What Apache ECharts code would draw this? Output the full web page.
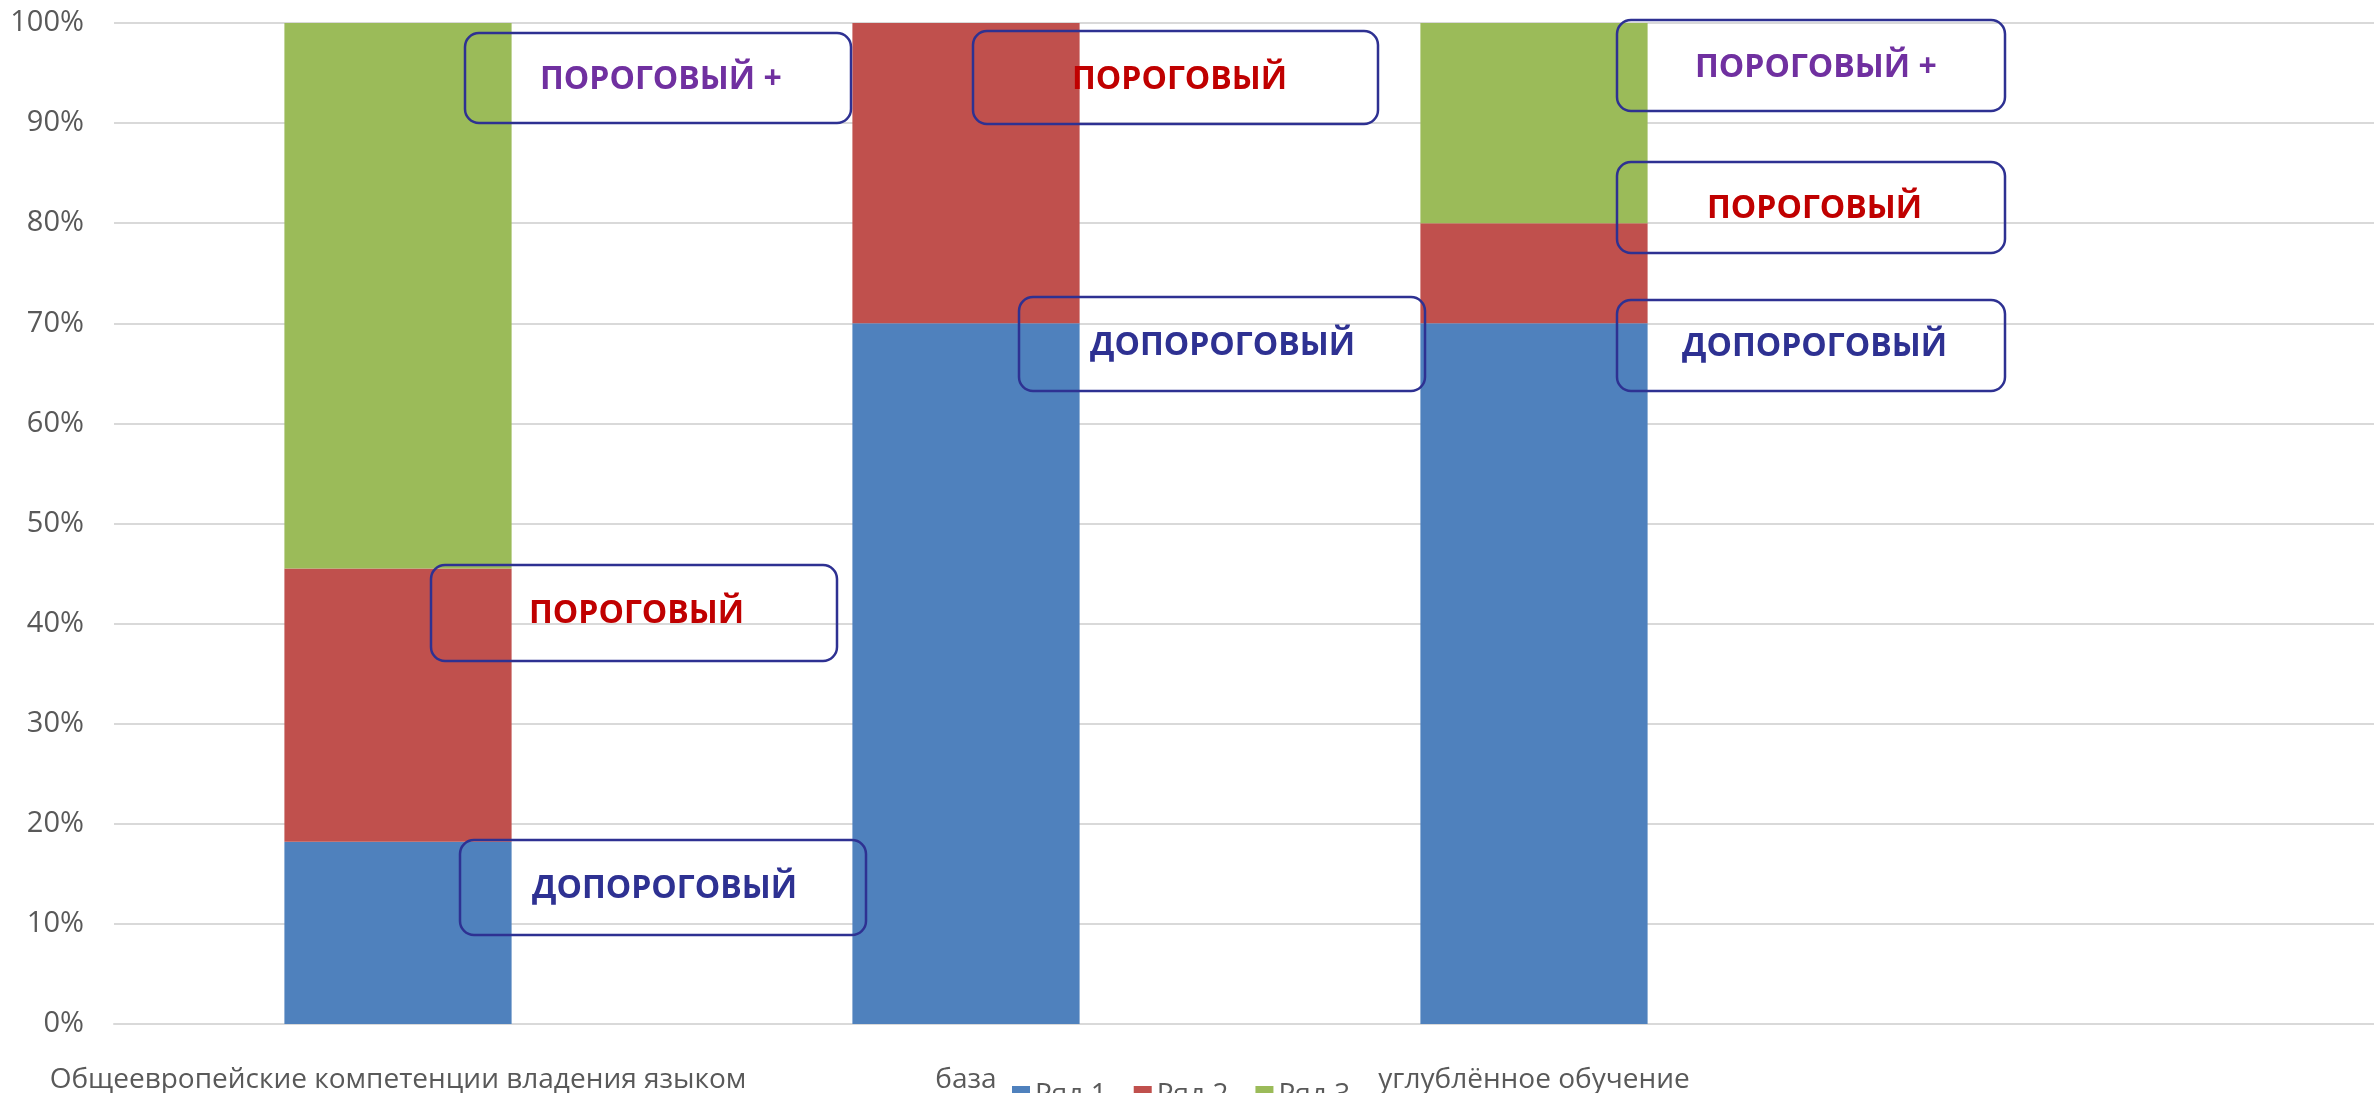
<!DOCTYPE html>
<html>
<head>
<meta charset="utf-8">
<title>chart</title>
<script src="https://cdn.jsdelivr.net/npm/echarts@6/dist/echarts.min.js"></script>
<style>
  html, body { margin: 0; padding: 0; background: #fff; }
  #main { width: 2374px; height: 1093px; }
</style>
</head>
<body>
<div id="main"></div>
<script>
// данные диаграммы
var categories = ['Общеевропейские компетенции владения языком', 'база', 'углублённое обучение', '']
var seriesNames = ['Ряд 1', 'Ряд 2', 'Ряд 3']
var row1 = [18.2, 70, 70, null]
var row2 = [27.3, 30, 10, null]
var row3 = [54.5, 0, 20, null]
var colors = ['#4F81BD', '#C0504D', '#9BBB59']

var FONT = '"Open Sans", "Noto Sans", sans-serif'
var BOX = '#2E3192'

// подписи-выноски (рамки поверх графика)
var notes = [
  { text: 'ПОРОГОВЫЙ +', color: '#7030A0', box: [465, 33, 386, 90], tx: 540, ty: 80 },
  { text: 'ПОРОГОВЫЙ', color: '#C00000', box: [431, 565, 406, 96], tx: 529, ty: 614 },
  { text: 'ДОПОРОГОВЫЙ', color: BOX, box: [460, 840, 406, 95], tx: 532, ty: 889 },
  { text: 'ПОРОГОВЫЙ', color: '#C00000', box: [973, 31, 405, 93], tx: 1072, ty: 80 },
  { text: 'ДОПОРОГОВЫЙ', color: BOX, box: [1019, 297, 406, 94], tx: 1090, ty: 346 },
  { text: 'ПОРОГОВЫЙ +', color: '#7030A0', box: [1617, 20, 388, 91], tx: 1695, ty: 68 },
  { text: 'ПОРОГОВЫЙ', color: '#C00000', box: [1617, 162, 388, 91], tx: 1707, ty: 209 },
  { text: 'ДОПОРОГОВЫЙ', color: BOX, box: [1617, 300, 388, 91], tx: 1682, ty: 347 }
]

var graphics = []
notes.forEach(function (n) {
  graphics.push({
    type: 'rect',
    z: 100,
    shape: { x: n.box[0], y: n.box[1], width: n.box[2], height: n.box[3], r: 14 },
    style: { fill: 'rgba(0,0,0,0)', stroke: BOX, lineWidth: 2.5 }
  })
  graphics.push({
    type: 'text',
    z: 101,
    x: n.tx,
    y: n.ty,
    style: {
      text: n.text,
      fill: n.color,
      fontSize: 32,
      fontWeight: 'bold',
      fontFamily: FONT,
      verticalAlign: 'middle'
    }
  })
})

var myChart = echarts.init(document.getElementById('main'))
myChart.setOption({
  animation: false,
  color: colors,
  textStyle: { fontFamily: FONT },
  // область графика чуть шире холста справа, как в исходнике
  grid: { left: 114, width: 2272, top: 23, bottom: 69, containLabel: false, outerBoundsMode: 'none' },
  legend: {
    data: seriesNames,
    left: 1007,
    top: 1076,
    icon: 'rect',
    itemWidth: 18,
    itemHeight: 18,
    itemGap: 27,
    textStyle: { fontSize: 28, color: '#595959', fontFamily: FONT }
  },
  xAxis: {
    type: 'category',
    data: categories,
    axisTick: { show: false },
    axisLine: { lineStyle: { color: '#D9D9D9', width: 2 } },
    axisLabel: { interval: 0, margin: 42, fontSize: 28, color: '#595959', fontFamily: FONT }
  },
  yAxis: {
    type: 'value',
    min: 0,
    max: 100,
    interval: 10,
    axisLine: { show: false },
    axisTick: { show: false },
    splitLine: { lineStyle: { color: '#D9D9D9', width: 2 } },
    axisLabel: { formatter: '{value}%', margin: 30, fontSize: 29, color: '#595959', fontFamily: FONT }
  },
  series: [
    { name: seriesNames[0], type: 'bar', stack: 'total', barWidth: '40%', data: row1 },
    { name: seriesNames[1], type: 'bar', stack: 'total', data: row2 },
    { name: seriesNames[2], type: 'bar', stack: 'total', data: row3 }
  ],
  graphic: graphics
})
</script>
</body>
</html>
